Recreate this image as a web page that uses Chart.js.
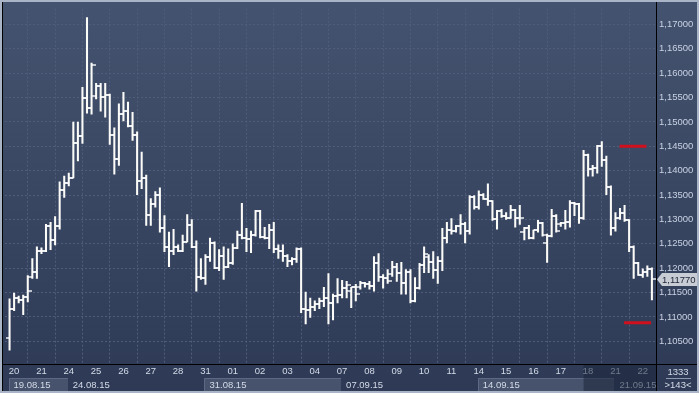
<!DOCTYPE html>
<html><head><meta charset="utf-8">
<script src="https://cdn.jsdelivr.net/npm/chart.js@4.4.0/dist/chart.umd.min.js"></script>
<style>html,body{margin:0;padding:0;background:#2f3c58;overflow:hidden}canvas{display:block}</style>
</head><body>
<canvas id="c" width="699" height="393"></canvas>
<script>
// ---- data ----
const dayLabels = ['20','21','24','25','26','27','28','31','01','02','03','04','07','08','09','10','11','14','15','16','17','18','21','22'];
const dayStarts = [1,7,13,19,25,31,37,43,49,55,61,67,73,79,85,91,97,103,109,115,121,127,133,139];
const weekLabels = ['19.08.15','24.08.15','31.08.15','07.09.15','14.09.15','21.09.15'];
const weekStarts = [0,13,43,73,103,133];
const yTicks = [1.105,1.110,1.115,1.120,1.125,1.130,1.135,1.140,1.145,1.150,1.155,1.160,1.165,1.170];

const opens = [1.1056,1.1117,1.1139,1.1135,1.1141,1.1183,1.1193,1.1236,1.1236,1.1286,
1.1258,1.1286,1.1361,1.1375,1.1385,1.1456,1.1472,1.1549,1.1528,1.1553,
1.1573,1.1551,1.1555,1.1474,1.1424,1.1516,1.1522,1.1492,1.1474,1.1379,
1.1385,1.1310,1.1331,1.1351,1.1282,1.1244,1.1236,1.1244,1.1236,1.1254,
1.1288,1.1244,1.1183,1.1179,1.1224,1.1252,1.1201,1.1226,1.1203,1.1210,
1.1242,1.1268,1.1262,1.1260,1.1268,1.1317,1.1264,1.1262,1.1278,1.1240,
1.1236,1.1226,1.1214,1.1218,1.1240,1.1117,1.1115,1.1121,1.1127,1.1133,
1.1139,1.1129,1.1143,1.1145,1.1159,1.1153,1.1161,1.1161,1.1169,1.1167,
1.1163,1.1210,1.1183,1.1179,1.1189,1.1203,1.1191,1.1169,1.1193,1.1133,
1.1159,1.1207,1.1224,1.1212,1.1197,1.1214,1.1262,1.1278,1.1276,1.1286,
1.1290,1.1276,1.1347,1.1325,1.1351,1.1343,1.1337,1.1300,1.1317,1.1308,
1.1304,1.1319,1.1302,1.1274,1.1282,1.1262,1.1278,1.1292,1.1252,1.1266,
1.1308,1.1290,1.1292,1.1294,1.1333,1.1331,1.1302,1.1432,1.1403,1.1405,
1.1450,1.1421,1.1367,1.1282,1.1304,1.1314,1.1298,1.1244,1.1210,1.1187,
1.1193,1.1199];
const highs = [1.1137,1.1149,1.1143,1.1145,1.1185,1.1220,1.1244,1.1242,1.1290,1.1294,
1.1306,1.1377,1.1389,1.1395,1.1500,1.1500,1.1571,1.1714,1.1621,1.1579,
1.1579,1.1579,1.1557,1.1488,1.1537,1.1561,1.1541,1.1520,1.1480,1.1438,
1.1391,1.1343,1.1357,1.1365,1.1308,1.1274,1.1280,1.1248,1.1268,1.1310,
1.1300,1.1256,1.1220,1.1228,1.1262,1.1254,1.1238,1.1244,1.1240,1.1250,
1.1276,1.1333,1.1282,1.1276,1.1319,1.1319,1.1284,1.1290,1.1294,1.1248,
1.1248,1.1228,1.1222,1.1242,1.1242,1.1151,1.1139,1.1133,1.1139,1.1161,
1.1189,1.1147,1.1179,1.1175,1.1173,1.1161,1.1167,1.1173,1.1171,1.1173,
1.1224,1.1230,1.1187,1.1197,1.1214,1.1210,1.1212,1.1197,1.1197,1.1181,
1.1210,1.1244,1.1228,1.1234,1.1224,1.1282,1.1294,1.1302,1.1288,1.1310,
1.1294,1.1349,1.1349,1.1359,1.1353,1.1373,1.1339,1.1319,1.1321,1.1314,
1.1329,1.1321,1.1329,1.1284,1.1288,1.1278,1.1298,1.1294,1.1270,1.1321,
1.1310,1.1294,1.1319,1.1339,1.1335,1.1333,1.1442,1.1434,1.1411,1.1452,
1.1460,1.1430,1.1369,1.1314,1.1323,1.1329,1.1300,1.1246,1.1212,1.1199,
1.1205,1.1201];
const lows = [1.1032,1.1113,1.1129,1.1105,1.1131,1.1179,1.1179,1.1230,1.1234,1.1238,
1.1248,1.1280,1.1345,1.1369,1.1385,1.1420,1.1456,1.1518,1.1516,1.1547,
1.1522,1.1510,1.1454,1.1393,1.1411,1.1502,1.1490,1.1462,1.1351,1.1363,
1.1288,1.1288,1.1325,1.1274,1.1234,1.1203,1.1228,1.1234,1.1234,1.1254,
1.1242,1.1153,1.1177,1.1167,1.1214,1.1199,1.1195,1.1177,1.1201,1.1208,
1.1240,1.1260,1.1234,1.1232,1.1266,1.1262,1.1260,1.1240,1.1232,1.1220,
1.1214,1.1203,1.1207,1.1212,1.1109,1.1086,1.1099,1.1113,1.1117,1.1121,
1.1086,1.1094,1.1129,1.1139,1.1139,1.1119,1.1133,1.1157,1.1161,1.1157,
1.1153,1.1173,1.1159,1.1169,1.1183,1.1173,1.1147,1.1147,1.1129,1.1131,
1.1157,1.1191,1.1191,1.1179,1.1169,1.1195,1.1252,1.1270,1.1274,1.1270,
1.1252,1.1270,1.1321,1.1321,1.1341,1.1329,1.1298,1.1280,1.1304,1.1300,
1.1302,1.1284,1.1290,1.1258,1.1260,1.1260,1.1274,1.1266,1.1212,1.1264,
1.1274,1.1286,1.1280,1.1284,1.1308,1.1292,1.1300,1.1389,1.1389,1.1395,
1.1409,1.1351,1.1268,1.1276,1.1300,1.1296,1.1234,1.1179,1.1185,1.1181,
1.1183,1.1135];
const closes = [1.1117,1.1139,1.1135,1.1141,1.1153,1.1193,1.1236,1.1236,1.1286,1.1258,
1.1286,1.1361,1.1375,1.1385,1.1456,1.1472,1.1549,1.1528,1.1617,1.1573,
1.1551,1.1555,1.1474,1.1424,1.1516,1.1522,1.1492,1.1474,1.1379,1.1385,
1.1310,1.1331,1.1351,1.1282,1.1244,1.1236,1.1244,1.1236,1.1254,1.1288,
1.1244,1.1183,1.1179,1.1224,1.1252,1.1201,1.1226,1.1203,1.1210,1.1242,
1.1268,1.1262,1.1260,1.1268,1.1317,1.1264,1.1262,1.1278,1.1240,1.1236,
1.1226,1.1214,1.1218,1.1240,1.1117,1.1115,1.1121,1.1127,1.1133,1.1139,
1.1129,1.1143,1.1145,1.1159,1.1165,1.1161,1.1147,1.1169,1.1167,1.1163,
1.1210,1.1183,1.1179,1.1173,1.1203,1.1191,1.1169,1.1193,1.1133,1.1159,
1.1207,1.1230,1.1212,1.1197,1.1214,1.1262,1.1278,1.1276,1.1286,1.1290,
1.1276,1.1347,1.1325,1.1351,1.1343,1.1337,1.1300,1.1317,1.1308,1.1304,
1.1319,1.1302,1.1304,1.1282,1.1262,1.1278,1.1292,1.1268,1.1266,1.1308,
1.1276,1.1292,1.1294,1.1333,1.1331,1.1302,1.1432,1.1403,1.1405,1.1450,
1.1421,1.1367,1.1282,1.1304,1.1314,1.1298,1.1244,1.1210,1.1187,1.1193,
1.1199,1.1177];

const levelValues = [1.1450, 1.1088];
const levelFrom = [133.9, 134.9];
const levelTo = [139.8, 140.8];
const totalBars = '1333';
const shownBars = '>143<';

// ---- build ----
const FONT = "'Liberation Sans', Arial, sans-serif";
const FS = 9.5;
const fmt = v => v.toFixed(5).replace('.', ',');

function tickImage(side) {
  const c = document.createElement('canvas');
  c.width = 8; c.height = 2;
  const g = c.getContext('2d');
  g.fillStyle = 'rgba(255,255,255,0.9)';
  g.fillRect(side < 0 ? 0 : 4, 0.25, 4, 1.5);
  return c;
}

const rangeData = highs.map((h, i) => ({ x: i, y: [lows[i], h] }));
const openData = opens.map((v, i) => ({ x: i, y: v }));
const closeData = closes.map((v, i) => ({ x: i, y: v }));

const levelSets = levelValues.map((v, k) => ({
  type: 'line',
  data: [{ x: levelFrom[k], y: v }, { x: levelTo[k], y: v }],
  borderColor: '#d0101c', borderWidth: 3, pointRadius: 0, fill: false
}));

const deco = {
  id: 'deco',
  beforeDraw(chart) {
    const { ctx, width, height } = chart;
    const g = ctx.createLinearGradient(0, 0, 0, height);
    g.addColorStop(0, '#44536f');
    g.addColorStop(1, '#2e3a55');
    ctx.save();
    ctx.fillStyle = g;
    ctx.fillRect(0, 0, width, height);
    ctx.restore();
  },
  afterDraw(chart) {
    const { ctx, width, height, chartArea: a } = chart;
    const xs = chart.scales.x, ys = chart.scales.y;
    ctx.save();
    ctx.font = FS + 'px ' + FONT;
    ctx.textBaseline = 'middle';
    ctx.textAlign = 'left';
    for (let i = 0; i < weekStarts.length; i++) {
      const x0 = xs.getPixelForValue(weekStarts[i]);
      const x1 = i + 1 < weekStarts.length ? xs.getPixelForValue(weekStarts[i + 1]) : a.right;
      if (i % 2 === 0) {
        ctx.fillStyle = '#47536c';
        ctx.fillRect(Math.round(x0) - 1, 378, Math.round(x1) - Math.round(x0), 13);
        ctx.strokeStyle = '#5c6884';
        ctx.lineWidth = 1;
        ctx.beginPath();
        ctx.moveTo(Math.round(x0) - 0.5, 391); ctx.lineTo(Math.round(x0) - 0.5, 378.5);
        ctx.lineTo(Math.round(x1) - 1, 378.5);
        ctx.stroke();
      }
      ctx.fillStyle = '#d4dbe8';
      ctx.fillText(weekLabels[i], x0 + 4, 385);
    }
    const ox = xs.getPixelForValue(126);
    ctx.fillStyle = 'rgba(28,38,60,0.55)';
    ctx.fillRect(ox, a.bottom + 1, a.right - ox, height - a.bottom - 3);

    ctx.strokeStyle = '#000000';
    ctx.lineWidth = 1;
    ctx.beginPath();
    ctx.moveTo(Math.round(a.right) + 0.5, 2); ctx.lineTo(Math.round(a.right) + 0.5, height - 2);
    ctx.moveTo(2, Math.round(a.bottom) + 0.5); ctx.lineTo(width - 2, Math.round(a.bottom) + 0.5);
    ctx.moveTo(2.5, 2); ctx.lineTo(2.5, height - 2);
    ctx.stroke();

    ctx.fillStyle = '#d4dbe8';
    ctx.textAlign = 'center';
    ctx.fillText(totalBars, 678, 372);
    ctx.fillText(shownBars, 678, 385);
    ctx.strokeStyle = '#8e9ab0';
    ctx.beginPath();
    ctx.moveTo(666, 378.5); ctx.lineTo(691, 378.5);
    ctx.stroke();

    const last = closes[closes.length - 1];
    const py = ys.getPixelForValue(last);
    const lx = Math.round(a.right) + 1;
    ctx.fillStyle = '#c8ccd4';
    ctx.beginPath();
    ctx.moveTo(lx, py);
    ctx.lineTo(lx + 5, py - 6.5);
    ctx.lineTo(width - 2, py - 6.5);
    ctx.lineTo(width - 2, py + 6.5);
    ctx.lineTo(lx + 5, py + 6.5);
    ctx.closePath();
    ctx.fill();
    ctx.fillStyle = '#1a2233';
    ctx.textAlign = 'left';
    ctx.fillText(fmt(last), lx + 5, py + 0.5);

    ctx.fillStyle = '#a9b4c6';
    ctx.fillRect(0, 0, width, 2);
    ctx.fillRect(0, 0, 2, height);
    ctx.fillRect(0, height - 2, width, 2);
    ctx.fillRect(width - 2, 0, 2, height);
    ctx.restore();
  }
};

new Chart(document.getElementById('c'), {
  type: 'bar',
  data: {
    datasets: [
      ...levelSets,
      { type: 'scatter', data: openData, pointStyle: tickImage(-1), pointRadius: 4, showLine: false },
      { type: 'scatter', data: closeData, pointStyle: tickImage(1), pointRadius: 4, showLine: false },
      { type: 'bar', data: rangeData, backgroundColor: '#fbfbf8', borderWidth: 0, barThickness: 1.4, borderSkipped: false }
    ]
  },
  options: {
    responsive: false,
    animation: false,
    events: [],
    layout: { padding: { left: 3, top: 3, right: 0, bottom: 0 } },
    plugins: { legend: { display: false }, tooltip: { enabled: false } },
    scales: {
      x: {
        type: 'linear', min: -1.0, max: 141.9, offset: false,
        afterBuildTicks: s => { s.ticks = dayStarts.map(v => ({ value: v })); },
        afterFit: s => { s.height = 29; },
        ticks: {
          autoSkip: false, maxRotation: 0, padding: 2,
          color: '#d4dbe8', font: { family: FONT, size: FS },
          callback: v => dayLabels[dayStarts.indexOf(v)]
        },
        grid: { color: '#4f5d7a', lineWidth: 1, drawTicks: false },
        border: { display: false, dash: [2, 2] }
      },
      y: {
        type: 'linear', position: 'right', min: 1.100357, max: 1.173230,
        afterBuildTicks: s => { s.ticks = yTicks.map(v => ({ value: v })); },
        afterFit: s => { s.width = 43; },
        ticks: {
          padding: 3, color: '#c9d2e3', font: { family: FONT, size: FS },
          callback: v => fmt(v)
        },
        grid: { color: '#4f5d7a', lineWidth: 1, drawTicks: false },
        border: { display: false, dash: [2, 2] }
      }
    }
  },
  plugins: [deco]
});
</script>
</body></html>
